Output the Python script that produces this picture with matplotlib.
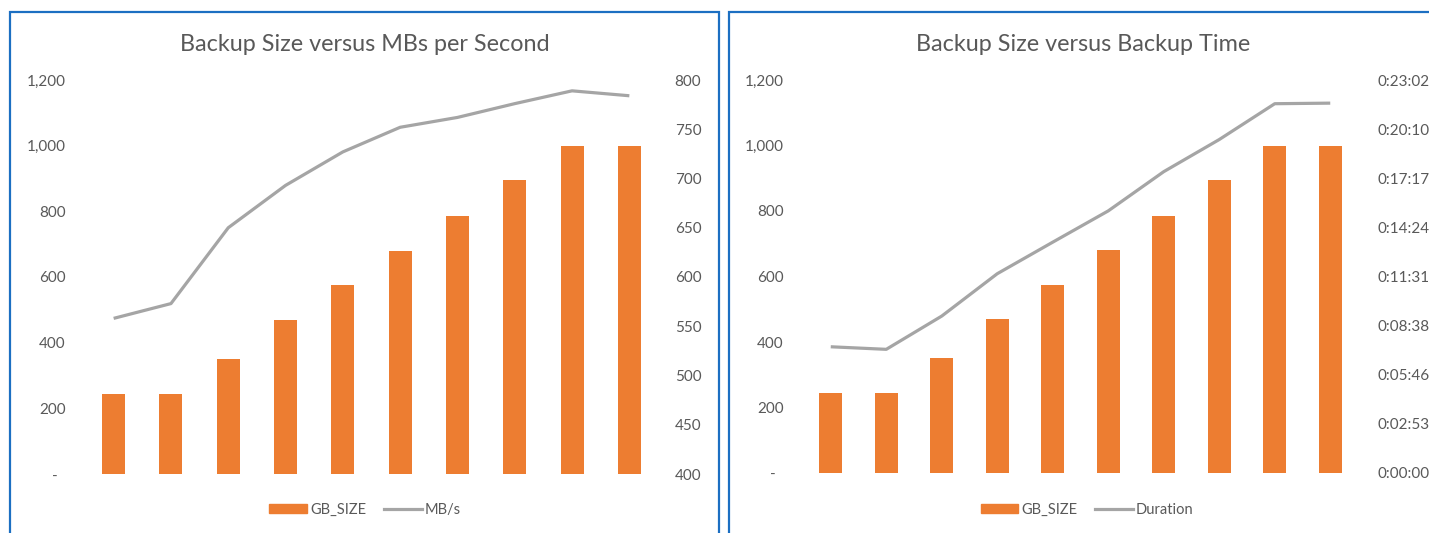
import matplotlib
matplotlib.use("Agg")
import matplotlib.pyplot as plt
from matplotlib.patches import Patch, Rectangle
from matplotlib.lines import Line2D
from matplotlib.ticker import FuncFormatter

plt.rcParams['font.family'] = ['Lato', 'DejaVu Sans']

gb_size = [245, 245, 350, 470, 575, 680, 785, 895, 1000, 1000]
mb_per_sec = [558, 573, 650, 693, 727, 752, 762, 776, 789, 784]
# backup duration in seconds
duration = [444, 435, 552, 701, 812, 922, 1060, 1173, 1299, 1301]

ORANGE = '#ED7D31'
GRAY = '#A5A5A5'
TXT = '#595959'
BLUE = '#1C6FC2'

W, H = 1429, 533
fig = plt.figure(figsize=(W / 100, H / 100), dpi=100)


def px(x0, y0, x1, y1):
    # pixel box (top-left origin) -> figure fraction
    return [x0 / W, 1 - y1 / H, (x1 - x0) / W, (y1 - y0) / H]


def fmt_left(v, pos):
    if v == 0:
        return '-  '
    return '{:,.0f}'.format(v)


def fmt_time(v, pos):
    s = int(round(v))
    return '%d:%02d:%02d' % (s // 3600, (s % 3600) // 60, s % 60)


def style(ax):
    for sp in ax.spines.values():
        sp.set_visible(False)
    ax.tick_params(length=0, colors=TXT, labelsize=11)


xs = range(len(gb_size))

# left chart
ax1 = fig.add_axes(px(85, 80, 658, 474))
ax1.bar(xs, gb_size, width=0.4, color=ORANGE, zorder=2)
ax1.set_ylim(0, 1200)
ax1.set_yticks(range(0, 1201, 200))
ax1.yaxis.set_major_formatter(FuncFormatter(fmt_left))
ax1.set_xlim(-0.5, len(gb_size) - 0.5)
ax1.set_xticks([])
ax1.tick_params(axis='y', pad=14)
style(ax1)
ax1b = ax1.twinx()
ax1b.plot(xs, mb_per_sec, color=GRAY, lw=2.3, solid_capstyle='butt')
ax1b.set_ylim(400, 800)
ax1b.set_yticks(range(400, 801, 50))
ax1b.tick_params(axis='y', pad=12)
style(ax1b)
fig.text(365 / W, 1 - 45 / H, 'Backup Size versus MBs per Second',
         ha='center', va='center', fontsize=16.8, color=TXT)

# right chart
ax2 = fig.add_axes(px(803, 80, 1358, 473))
ax2.bar(xs, gb_size, width=0.42, color=ORANGE, zorder=2)
ax2.set_ylim(0, 1200)
ax2.set_yticks(range(0, 1201, 200))
ax2.yaxis.set_major_formatter(FuncFormatter(fmt_left))
ax2.set_xlim(-0.5, len(gb_size) - 0.5)
ax2.set_xticks([])
ax2.tick_params(axis='y', pad=14)
style(ax2)
ax2b = ax2.twinx()
ax2b.plot(xs, duration, color=GRAY, lw=2.3, solid_capstyle='butt')
ax2b.set_ylim(0, 1382.4)
ax2b.set_yticks([172.8 * i for i in range(9)])
ax2b.yaxis.set_major_formatter(FuncFormatter(fmt_time))
ax2b.tick_params(axis='y', pad=14)
style(ax2b)
fig.text(1083 / W, 1 - 45 / H, 'Backup Size versus Backup Time',
         ha='center', va='center', fontsize=16.8, color=TXT)

# legends
for cx, lbl in [(365, 'MB/s'), (1087, 'Duration')]:
    handles = [Patch(color=ORANGE, label='GB_SIZE'),
               Line2D([], [], color=GRAY, lw=2.3, label=lbl)]
    fig.legend(handles=handles, loc='center', bbox_to_anchor=(cx / W, 1 - 510 / H),
               ncol=2, frameon=False, fontsize=10.5, labelcolor=TXT,
               handlelength=2.6, handleheight=0.6, handletextpad=0.2,
               columnspacing=1.2)

# panel borders
fig.add_artist(Rectangle((10 / W, -0.05), 709 / W, 1.05 - 12 / H,
                         transform=fig.transFigure, fill=False, ec=BLUE, lw=1.6))
fig.add_artist(Rectangle((729 / W, -0.05), 0.6, 1.05 - 12 / H,
                         transform=fig.transFigure, fill=False, ec=BLUE, lw=1.6))

fig.savefig('out.png', dpi=100)
